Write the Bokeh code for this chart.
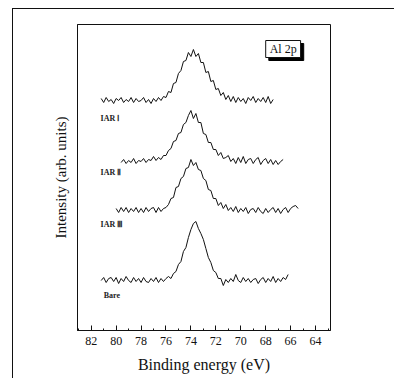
from bokeh.plotting import figure
from bokeh.models import FixedTicker, Range1d
from bokeh.embed import file_html
from bokeh.resources import INLINE
from bokeh.core.properties import value
import numpy as np

# ---- data ----
step = 0.2

iar1_start = 81.2
iar1 = [2, -2, 3, -1, 1, -3, 2, 0, 3, -2, 1, -1, 3, -2, 2, -1, 0, 3, -2, 1,
        -3, 2, -1, 3, 0,
        4, 3, 9, 8, 17, 18, 27, 30, 39, 40, 48, 44, 51, 44, 47, 38, 38, 28, 29, 19,
        20, 11, 12, 5, 8, 1, 5, -1, 4, -2, 3, -1, 2, -3, 3, 0, 4, -2, 2, -1,
        3, -2, 4, -3, 1]

iar2_start = 79.6
iar2 = [-1, 2, -2, 1, -1, 3, -2, 1, 0, 3, -1, 2, 1, 5, 1, 4, 2,
        6, 6, 11, 13, 20, 21, 28, 29, 37, 39, 46, 51, 43, 48, 39, 39, 28, 27, 19,
        19, 12, 12, 6, 9, 3, 4, 6, 0, 3, -2, 4, -1, 5, -2, 2, 3, -2, 2,
        4, -3, 1, 3, -2, 2, -3, 1, -3, 0, 2]

iar3_start = 80.0
iar3 = [2, -2, 3, -1, 3, -2, 2, -1, 3, -2, 2, -2, 3, -1, 2, 3, -2, 3, -1, 2,
        3, 6, 12, 13, 23, 24, 32, 34, 42, 43, 51, 45, 48, 41, 40, 32, 30, 21, 20, 12,
        12, 5, 8, 2, 6, 0, 3, -1, 4, -2, 2, -1, 3, -3, 1, 2, -2, 3, -1, -3,
        2, -2, 1, 3, -2, 2, -3, 1, 3, -2, 2, 4, 5, 2]

bare_start = 81.2
bare = [0, 3, -2, 2, 3, -1, 3, -3, 2, -1, 4, 0, -2, 3, -1, 2, -2, 3, -1, -2,
        2, -1, 3, -2, 2, -1, 2,
        4, 2, 7, 9, 16, 19, 29, 33, 43, 51, 57, 59, 52, 47, 41, 32, 23, 18, 10,
        8, 2, 2, -5, 1, -2, 2, -1, 6, 0, -2, 3, -1, 2, -2, 1, 2, -3, 1,
        3, -2, 2, -1, 4, -2, 2, -1, 3, 1, 6]

series = [("IAR Ⅰ", iar1_start, iar1), ("IAR Ⅱ", iar2_start, iar2),
          ("IAR Ⅲ", iar3_start, iar3), ("Bare", bare_start, bare)]
offsets = [230, 169, 120, 50]          # vertical stacking of the spectra
x_ticks = [82, 80, 78, 76, 74, 72, 70, 68, 66, 64]
x_minor = [83, 81, 79, 77, 75, 73, 71, 69, 67, 65, 63]

SERIF = "Liberation Serif"

p = figure(width=382, height=370, output_backend="svg", toolbar_location=None,
           x_range=Range1d(83.1, 62.8), y_range=Range1d(0, 306),
           min_border_left=64, min_border_right=65, min_border_top=15,
           min_border_bottom=49, margin=(8, 0, 0, 12),
           styles={"border-left": "1px solid #111", "border-top": "1px solid #111"},
           x_axis_label="Binding energy (eV)", y_axis_label="Intensity (arb. units)")

p.grid.visible = False
p.outline_line_color = "#111111"
p.outline_line_width = 1

for (name, start, vals), off in zip(series, offsets):
    v = np.asarray(vals, dtype=float)
    x = start - step * np.arange(len(v))
    p.line(x, v + off, line_color="#111111", line_width=1.0)

# curve labels
lab_x = [81.25, 81.25, 81.25, 81.0]
lab_y = [212, 158, 106, 35]
p.text(x=lab_x, y=lab_y, text=[s[0] for s in series],
       text_font=value(SERIF), text_font_style="bold", text_font_size="8px",
       text_color="#222222", text_baseline="middle", text_align="left")

# "Al 2p" box with shadow
p.quad(left=[67.75], right=[64.95], top=[287], bottom=[270],
       fill_color="#000000", line_color="#000000")
p.quad(left=[68.0], right=[65.2], top=[290], bottom=[273],
       fill_color="white", line_color="#111111", line_width=1)
p.text(x=[66.6], y=[281.5], text=["Al 2p"], text_font=value(SERIF),
       text_font_size="12px", text_color="#111111",
       text_align="center", text_baseline="middle")

# x axis
xa = p.xaxis[0]
xa.ticker = FixedTicker(ticks=x_ticks, minor_ticks=x_minor)
xa.major_tick_in = 5
xa.major_tick_out = 0
xa.minor_tick_in = 2
xa.minor_tick_out = 0
xa.major_label_text_font = SERIF
xa.major_label_text_font_size = "12px"
xa.major_label_text_color = "#111111"
xa.major_label_standoff = 6
xa.axis_label_text_font = SERIF
xa.axis_label_text_font_size = "16px"
xa.axis_label_text_font_style = "normal"
xa.axis_label_text_color = "#111111"
xa.axis_label_standoff = 8
xa.axis_line_color = "#111111"
xa.major_tick_line_color = "#111111"
xa.minor_tick_line_color = "#111111"

ya = p.yaxis[0]
ya.ticker = FixedTicker(ticks=[])
ya.major_label_text_font_size = "0px"
ya.major_tick_in = 0
ya.major_tick_out = 0
ya.minor_tick_in = 0
ya.minor_tick_out = 0
ya.axis_label_text_font = SERIF
ya.axis_label_text_font_size = "15px"
ya.axis_label_text_font_style = "normal"
ya.axis_label_text_color = "#111111"
ya.axis_label_standoff = 9
ya.axis_line_color = "#111111"

open("out.html", "w").write(file_html(p, INLINE))
